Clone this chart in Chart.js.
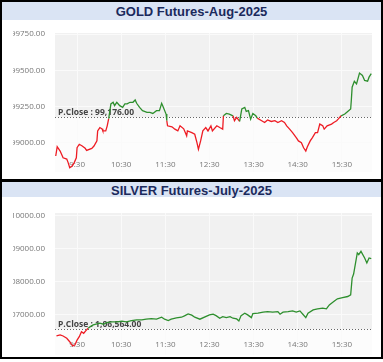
<!DOCTYPE html>
<html>
<head>
<meta charset="utf-8">
<script src="https://cdn.jsdelivr.net/npm/chart.js@4.4.1/dist/chart.umd.min.js"></script>
<style>
    html, body { margin: 0; padding: 0; background: #fff; }
    body { width: 383px; height: 362px; position: relative; overflow: hidden; font-family: "Liberation Sans", Arial, sans-serif; }
    .frame { position: absolute; left: 0; top: 0; width: 383px; height: 359px; border: 2px solid #000; box-sizing: border-box; z-index: 5; pointer-events: none; }
    .sep { position: absolute; left: 0; top: 179px; width: 383px; height: 3px; background: #000; z-index: 5; }
    .title { position: absolute; left: 2px; width: 379px; background: #dae4f4; color: #1b2a5c; font-weight: bold; font-size: 13px; text-align: center; }
    .chart-box { position: absolute; left: 13px; width: 366px; }
</style>
</head>
<body>
<div class="title" style="top:2px;height:18px;line-height:19px;">GOLD Futures-Aug-2025</div>
<div class="chart-box" style="top:20px;height:159px;"><canvas id="goldChart"></canvas></div>
<div class="title" style="top:182px;height:15px;line-height:18px;">SILVER Futures-July-2025</div>
<div class="chart-box" style="top:197px;height:160px;"><canvas id="silverChart"></canvas></div>
<div class="sep"></div>
<div class="frame"></div>

<script>
// Gold intraday (time, price)
const goldTimes = ['9:01','9:03','9:07','9:11','9:16','9:18','9:20','9:23','9:26','9:29','9:30','9:33','9:37','9:41','9:43','9:50','9:53','9:57','9:58',
    '10:01','10:04','10:05','10:09','10:11','10:13','10:16','10:19','10:21','10:24','10:28','10:32','10:35','10:38','10:42','10:46','10:49','10:51','10:55','10:59',
    '11:05','11:09','11:13','11:18','11:22','11:25','11:27','11:31','11:32','11:33','11:39','11:43','11:47','11:50','11:55','11:59',
    '12:00','12:06','12:10','12:13','12:15','12:18','12:21','12:25','12:28','12:32','12:34','12:40','12:44','12:48','12:49','12:53','12:57',
    '13:02','13:04','13:07','13:11','13:14','13:18','13:20','13:23','13:26','13:29','13:33','13:35','13:41','13:45','13:49','13:54','13:59',
    '14:03','14:08','14:12','14:15','14:19','14:23','14:28','14:31','14:35','14:38','14:41','14:43','14:47','14:50','14:54','14:57',
    '15:00','15:04','15:06','15:10','15:16','15:19','15:23','15:25','15:29','15:34','15:38','15:42','15:43','15:44','15:47','15:50','15:54','15:58',
    '16:01','16:05','16:07','16:10'];
const goldPrices = [98910,98974,98944,98898,98889,98863,98829,98840,98863,98898,98967,98991,98979,98963,98949,98963,98979,99014,99083,
    99106,99097,99083,99083,99118,99167,99269,99280,99257,99280,99257,99245,99269,99269,99280,99280,99296,99273,99245,99222,
    99210,99210,99203,99222,99222,99273,99250,99199,99153,99118,99111,99095,99083,99118,99097,99049,
    99083,99071,99060,99002,98956,99014,99083,99106,99083,99118,99083,99118,99106,99095,99187,99203,99199,
    99187,99153,99176,99148,99234,99245,99217,99222,99164,99203,99187,99171,99153,99141,99158,99148,99153,
    99141,99153,99141,99118,99095,99071,99037,99014,99002,98967,98944,98972,99014,99037,99071,99071,
    99130,99118,99095,99118,99130,99141,99153,99164,99187,99199,99217,99234,99303,99384,99425,99407,99481,99465,
    99430,99425,99453,99477];
const goldClose = 99176;
const goldTicks = [99000, 99250, 99500, 99750];

// Silver intraday (time, price)
const silverTimes = ['9:02','9:07','9:11','9:16','9:20','9:24','9:27','9:30','9:33','9:36','9:39','9:42','9:45','9:48','9:52','9:57',
    '10:01','10:06','10:10','10:17','10:24','10:31','10:37','10:44','10:51','10:58',
    '11:04','11:11','11:18','11:25','11:29','11:34','11:38','11:45','11:52','11:56',
    '12:01','12:06','12:10','12:17','12:30','12:35','12:39','12:44','12:48','12:53','12:58',
    '13:02','13:07','13:10','13:13','13:18','13:22','13:27','13:29','13:36','13:43','13:49','13:56',
    '14:03','14:06','14:10','14:17','14:23','14:28','14:33','14:37','14:41','14:44','14:51','14:57',
    '15:04','15:09','15:13','15:19','15:24','15:31','15:38','15:42','15:44','15:46','15:51','15:53','15:56',
    '16:01','16:04','16:07','16:10'];
const silverPrices = [106364,106394,106364,106294,106191,106061,106091,106242,106342,106494,106446,106524,106597,106645,106697,106727,
    106749,106718,106767,106788,106788,106809,106788,106827,106848,106848,
    106870,106888,106870,106930,106870,106827,106870,106909,106930,106970,
    107030,106991,106930,106870,107000,107021,106979,106900,106948,106918,106948,
    106900,106879,106818,106979,107052,107000,106918,107039,107052,107082,107100,107082,
    107100,107021,107082,107100,107121,107082,107121,107021,106918,107052,107152,107182,
    107203,107182,107303,107403,107485,107524,107555,107606,108112,108233,108870,108818,108918,
    108718,108567,108718,108697];
const silverClose = 106564;
const silverTicks = [107000, 108000, 109000, 110000];

const timeTicks = ['9:30','10:30','11:30','12:30','13:30','14:30','15:30'];

function toMin(t) {
    const p = t.split(':');
    return parseInt(p[0]) * 60 + parseInt(p[1]);
}
function fmtTime(m) {
    const h = Math.floor(m / 60), mm = m % 60;
    return h + ':' + (mm < 10 ? '0' : '') + mm;
}

// plot band + previous close line
const closePlugin = {
    id: 'pclose',
    beforeDraw(chart, args, opts) {
        const a = chart.chartArea, ctx = chart.ctx;
        const yc = chart.scales.y.getPixelForValue(opts.value);
        ctx.save();
        ctx.fillStyle = '#f1f1f1';
        ctx.fillRect(a.left, a.top, a.right - a.left, yc - a.top);
        ctx.fillStyle = '#fcfcfc';
        ctx.fillRect(a.left, yc, a.right - a.left, a.bottom - yc);
        ctx.restore();
    },
    beforeDatasetsDraw(chart, args, opts) {
        const a = chart.chartArea, ctx = chart.ctx;
        const yc = Math.round(chart.scales.y.getPixelForValue(opts.value)) + 0.5;
        ctx.save();
        ctx.strokeStyle = '#666';
        ctx.lineWidth = 1;
        ctx.setLineDash([1, 2]);
        ctx.beginPath();
        ctx.moveTo(a.left, yc);
        ctx.lineTo(a.right, yc);
        ctx.stroke();
        ctx.setLineDash([]);
        ctx.fillStyle = '#444';
        ctx.font = 'bold 8.5px "Open Sans"';
        ctx.textBaseline = 'bottom';
        ctx.fillText(opts.label, a.left + 3, yc - 1);
        ctx.restore();
    }
};

function makeChart(id, times, prices, close, closeLabel, yTicks, yMin, yMax, pad, xPad) {
    const points = times.map((t, i) => ({ x: toMin(t), y: prices[i] }));
    return new Chart(document.getElementById(id), {
        type: 'line',
        data: {
            datasets: [{
                data: points,
                borderWidth: 1.3,
                pointRadius: 0,
                tension: 0,
                borderColor: '#2e8f2e',
                segment: {
                    borderColor: c => ((c.p0.parsed.y + c.p1.parsed.y) / 2 >= close ? '#2e8f2e' : '#ee1c24')
                }
            }]
        },
        options: {
            responsive: true,
            maintainAspectRatio: false,
            animation: false,
            layout: { padding: pad },
            plugins: {
                legend: { display: false },
                tooltip: { enabled: false },
                pclose: { value: close, label: closeLabel }
            },
            scales: {
                x: {
                    type: 'linear',
                    min: 540,
                    max: 971,
                    afterBuildTicks: s => { s.ticks = timeTicks.map(t => ({ value: toMin(t) })); },
                    afterFit: s => { s.height = 0; s.paddingLeft = 0; s.paddingRight = 0; },
                    border: { display: false },
                    grid: { color: '#fafafa', drawTicks: false },
                    ticks: {
                        mirror: true,
                        padding: xPad,
                        maxRotation: 0,
                        autoSkip: false,
                        color: '#777',
                        font: { family: 'Open Sans', size: 8 },
                        callback: v => fmtTime(v)
                    }
                },
                y: {
                    min: yMin,
                    max: yMax,
                    afterBuildTicks: s => { s.ticks = yTicks.map(v => ({ value: v })); },
                    afterFit: s => { s.width = 42; s.paddingTop = 0; s.paddingBottom = 0; },
                    border: { display: false },
                    grid: { color: '#fafafa', drawTicks: false },
                    ticks: {
                        padding: 10,
                        color: '#777',
                        font: { family: 'Open Sans', size: 8 },
                        callback: v => v.toFixed(2)
                    }
                }
            }
        },
        plugins: [closePlugin]
    });
}

document.addEventListener('DOMContentLoaded', function() {
    makeChart('goldChart', goldTimes, goldPrices, goldClose, 'P.Close : 99,176.00',
        goldTicks, 98800, 99757, { top: 13, right: 7, bottom: 7, left: 0 }, 2);
    makeChart('silverChart', silverTimes, silverPrices, silverClose, 'P.Close : 1,06,564.00',
        silverTicks, 105790, 110075, { top: 16, right: 7, bottom: 2, left: 0 }, 5);
});
</script>
</body>
</html>
